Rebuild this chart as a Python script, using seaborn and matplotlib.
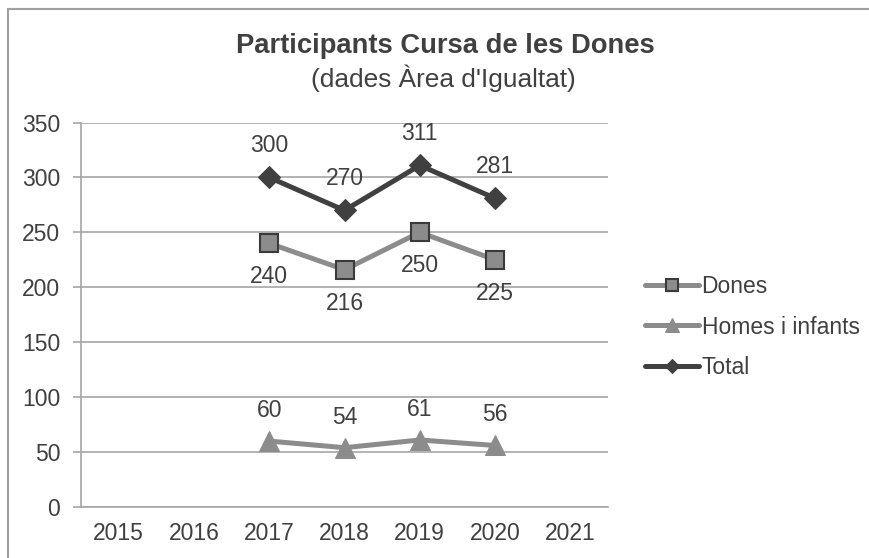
import matplotlib
matplotlib.use("Agg")
import matplotlib.pyplot as plt
from matplotlib.patches import Rectangle
import seaborn as sns
import pandas as pd

# ---- data ----
categories = [2015, 2016, 2017, 2018, 2019, 2020, 2021]
years = [2017, 2018, 2019, 2020]
dones = [240, 216, 250, 225]
homes = [60, 54, 61, 56]
total = [300, 270, 311, 281]
series_names = ["Dones", "Homes i infants", "Total"]
y_ticks = [0, 50, 100, 150, 200, 250, 300, 350]
title = "Participants Cursa de les Dones"
subtitle = "(dades Àrea d'Igualtat)"

sns.set_theme(style="white")
plt.rcParams['font.family'] = ['Liberation Sans', 'DejaVu Sans']

TXT = "#404040"
GRID = "#a6a6a6"
FS = 16.5

fig = plt.figure(figsize=(8.7, 5.58), dpi=100)
ax = fig.add_axes([81 / 870, 1 - 507 / 558, (608 - 81) / 870, (507 - 122.5) / 558])

df_d = pd.DataFrame({"year": years, "value": dones})
df_h = pd.DataFrame({"year": years, "value": homes})
df_t = pd.DataFrame({"year": years, "value": total})

sns.lineplot(data=df_d, x="year", y="value", ax=ax, color="#8c8c8c", lw=3.6,
             marker="s", markersize=13.5, markerfacecolor="#8c8c8c",
             markeredgecolor="#3a3a3a", markeredgewidth=1.5, label=series_names[0])
sns.lineplot(data=df_h, x="year", y="value", ax=ax, color="#8c8c8c", lw=3.6,
             marker="^", markersize=15, markerfacecolor="#8c8c8c",
             markeredgecolor="#8c8c8c", label=series_names[1])
sns.lineplot(data=df_t, x="year", y="value", ax=ax, color="#404040", lw=3.6,
             marker="D", markersize=11, markerfacecolor="#404040",
             markeredgecolor="#404040", label=series_names[2])

# data labels
for x, v in zip(years, total):
    ax.annotate(str(v), (x, v), xytext=(0, 23), textcoords="offset points",
                ha="center", va="center", fontsize=FS, color=TXT)
for x, v in zip(years, dones):
    ax.annotate(str(v), (x, v), xytext=(0, -24), textcoords="offset points",
                ha="center", va="center", fontsize=FS, color=TXT)
for x, v in zip(years, homes):
    ax.annotate(str(v), (x, v), xytext=(0, 22), textcoords="offset points",
                ha="center", va="center", fontsize=FS, color=TXT)

ax.set_xlim(categories[0] - 0.5, categories[-1] + 0.5)
ax.set_ylim(0, 350)
ax.set_yticks(y_ticks)
ax.set_yticklabels([str(t) for t in y_ticks])
ax.set_xticks(categories)
ax.set_xticklabels([str(c) for c in categories])
ax.set_xticks([c - 0.5 for c in categories] + [categories[-1] + 0.5], minor=True)
ax.tick_params(axis="x", which="major", length=0, pad=11, labelsize=FS, labelcolor=TXT)
ax.tick_params(axis="x", which="minor", length=6, width=1.2, color=GRID, direction="out")
ax.tick_params(axis="y", which="major", length=6, width=1.2, color=GRID, direction="out",
               pad=9, labelsize=FS, labelcolor=TXT, left=True)
ax.grid(axis="y", color=GRID, lw=1.2)
ax.grid(axis="x", visible=False)
ax.set_xlabel("")
ax.set_ylabel("")
for s in ["top", "right"]:
    ax.spines[s].set_visible(False)
for s in ["left", "bottom"]:
    ax.spines[s].set_color(GRID)
    ax.spines[s].set_linewidth(1.2)

handles, labels = ax.get_legend_handles_labels()
ax.get_legend().remove()
fig.legend(handles, labels, loc="center left", bbox_to_anchor=(645 / 870, 1 - 327 / 558),
           frameon=False, fontsize=FS, handlelength=2.35, handletextpad=0.12,
           labelspacing=0.75, borderpad=0, borderaxespad=0, labelcolor=TXT,
           markerscale=0.65)

fig.text(445 / 870, 1 - 46 / 558, title, ha="center", va="center", fontsize=19.7,
         fontweight="bold", color=TXT)
fig.text(443 / 870, 1 - 78 / 558, subtitle, ha="center", va="center", fontsize=18.9,
         color=TXT)

fig.patches.append(Rectangle((8 / 870, -0.05), 1.0, 1 - 9 / 558 + 0.05,
                             transform=fig.transFigure, fill=False,
                             edgecolor="#a0a0a0", lw=1.5))

fig.savefig("out.png", dpi=100)
